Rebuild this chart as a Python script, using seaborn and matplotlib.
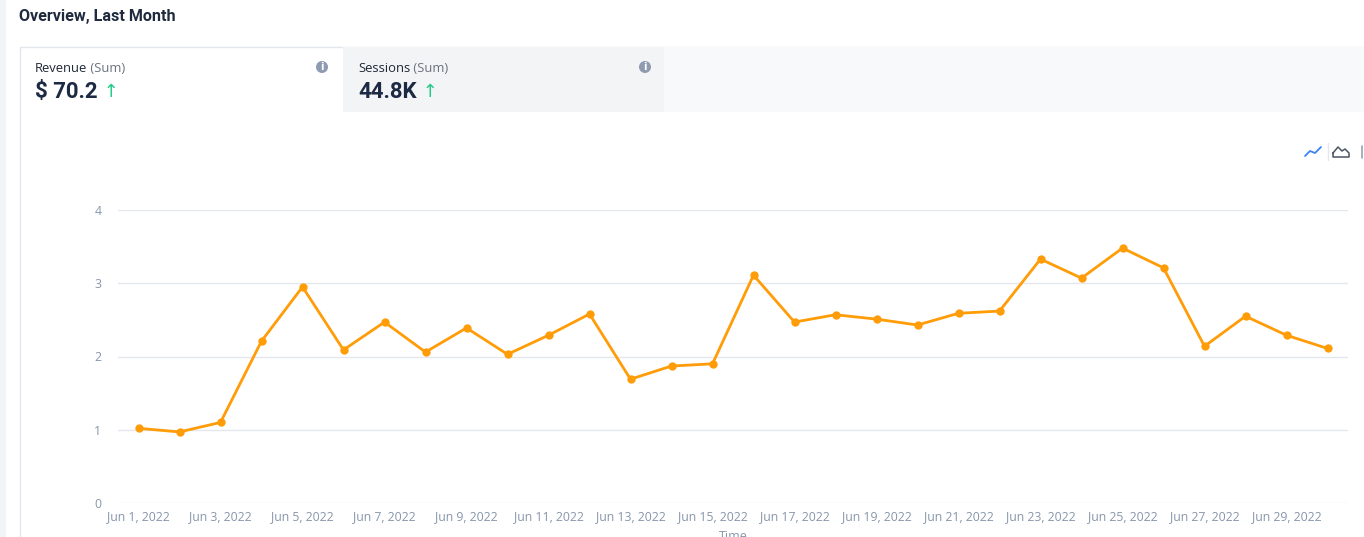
import matplotlib
matplotlib.use("Agg")
import matplotlib.pyplot as plt
import matplotlib.patches as mpatches
import seaborn as sns
import pandas as pd

# ---- data ----
days = list(range(1, 31))
revenue = [1.02, 0.97, 1.10, 2.21, 2.95, 2.09, 2.47, 2.06, 2.39, 2.03,
           2.29, 2.58, 1.69, 1.87, 1.90, 3.11, 2.47, 2.57, 2.51, 2.43,
           2.59, 2.62, 3.33, 3.07, 3.48, 3.21, 2.14, 2.55, 2.29, 2.11]
tick_days = list(range(1, 30, 2))
tick_labels = [f"Jun {d}, 2022" for d in tick_days]
y_ticks = [0, 1, 2, 3, 4]
title = "Overview, Last Month"
kpi_names = ["Revenue", "Sessions"]
kpi_values = ["$ 70.2", "44.8K"]

W, H = 1364, 537
sns.set_theme(style="white")
plt.rcParams['font.family'] = ['Open Sans', 'DejaVu Sans']

fig = plt.figure(figsize=(W / 100, H / 100), dpi=100)
fig.patch.set_facecolor("white")

# background / card layer in pixel coordinates
bg = fig.add_axes([0, 0, 1, 1], zorder=0)
bg.set_xlim(0, W)
bg.set_ylim(H, 0)
bg.axis("off")

bg.add_patch(mpatches.Rectangle((0, 0), 6, H, facecolor="#f3f4f6", edgecolor="none"))
# card
bg.add_patch(mpatches.Rectangle((19.5, 46.5), W, H, facecolor="white",
                                edgecolor="#e3e6eb", linewidth=1))
# tab row
bg.add_patch(mpatches.Rectangle((343, 47), 321, 65, facecolor="#f3f4f6", edgecolor="none"))
bg.add_patch(mpatches.Rectangle((664, 47), W - 664, 65, facecolor="#f8f9fb", edgecolor="none"))

bg.text(19, 17, title, fontsize=11.6, fontweight="bold", color="#1f2b3d",
        va="center", ha="left", family=["Roboto", "DejaVu Sans"])

tab_x = [35, 358]
info_x = [322, 645]
for name, val, tx, ix in zip(kpi_names, kpi_values, tab_x, info_x):
    t = bg.text(tx, 69, name, fontsize=9.4, color="#1f2937", va="center", ha="left",
                family=["Open Sans", "DejaVu Sans"])
    bg.annotate(" (Sum)", xycoords=t, xy=(1, 0), va="bottom", ha="left",
                fontsize=9.4, color="#6b7280", family=["Open Sans", "DejaVu Sans"])
    v = bg.text(tx, 92, val, fontsize=16, fontweight="bold", color="#1c2a44",
                va="center", ha="left", family=["Roboto", "DejaVu Sans"], parse_math=False)
    bg.annotate(" ↑", xycoords=v, xy=(1, 0.5), va="center", ha="left",
                fontsize=13, color="#22cc88", family=["DejaVu Sans"])
    bg.add_patch(mpatches.Circle((ix, 67), 6, facecolor="#8e9bb0", edgecolor="none"))
    bg.text(ix, 67.5, "i", fontsize=7, fontweight="bold", color="white",
            ha="center", va="center", family=["DejaVu Sans"])

# chart-type icons top right
bg.plot([1305, 1310, 1315, 1321], [156, 151, 153, 147], color="#3b82f6", lw=1.3)
bg.plot([1327.5, 1327.5], [143, 160], color="#e5e7eb", lw=1)
bg.plot([1333, 1338, 1342, 1345, 1349, 1349, 1333, 1333],
        [153, 147, 151, 149, 153, 157, 157, 153], color="#4b5563", lw=1.1)
bg.plot([1362, 1362], [146, 158], color="#9ca3af", lw=1.2)

# ---- chart ----
ax = fig.add_axes([118 / W, 1 - 503 / H, (1348 - 118) / W, (503 - 210) / H], zorder=2)
ax.set_facecolor("none")
df = pd.DataFrame({"day": days, "revenue": revenue})
sns.lineplot(data=df, x="day", y="revenue", ax=ax, color="#ff9c07", linewidth=2,
             marker="o", markersize=6, markeredgewidth=0, clip_on=False)
ax.set_xlim(0.5, 30.5)
ax.set_ylim(0, 4)
ax.set_yticks(y_ticks)
ax.set_xticks(tick_days)
ax.set_xticklabels(tick_labels)
ax.grid(axis="y", color="#e4e8ee", linewidth=1)
ax.set_axisbelow(True)
for s in ax.spines.values():
    s.set_visible(False)
ax.tick_params(axis="both", length=0, labelsize=8.8, labelcolor="#8796ab")
ax.tick_params(axis="y", pad=12)
ax.tick_params(axis="x", pad=5)
ax.set_xlabel("")
ax.set_ylabel("")

bg.text(733, 530, "Time", fontsize=9, color="#8796ab", ha="center", va="top",
        family=["Open Sans", "DejaVu Sans"])

fig.savefig("out.png", dpi=100)
